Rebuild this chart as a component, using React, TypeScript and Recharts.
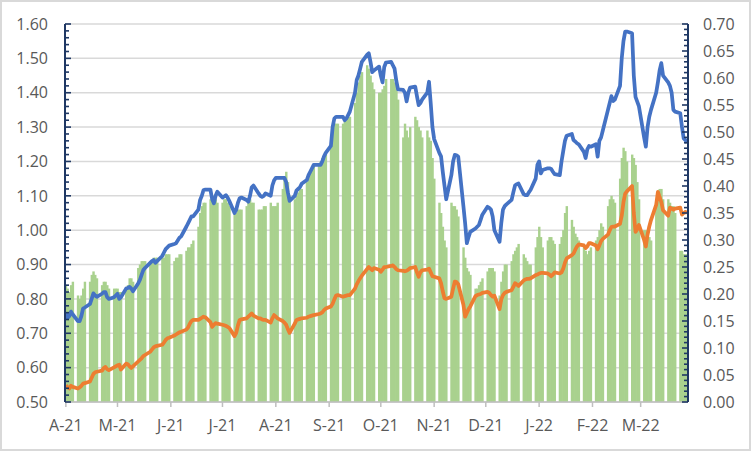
import { ComposedChart, Bar, Line, XAxis, YAxis, CartesianGrid } from 'recharts';

// daily axis, weekends left empty (date axis look)
const firstDay = '2021-04-05';
const dayCount = 362;

const monthTicks = [
  '2021-04-05', '2021-05-05', '2021-06-05', '2021-07-05', '2021-08-05', '2021-09-05',
  '2021-10-05', '2021-11-05', '2021-12-05', '2022-01-05', '2022-02-05', '2022-03-05',
];
const monthLabels = ['A-21', 'M-21', 'J-21', 'J-21', 'A-21', 'S-21', 'O-21', 'N-21', 'D-21', 'J-22', 'F-22', 'M-22'];

const leftMajor = [0.5, 0.6, 0.7, 0.8, 0.9, 1.0, 1.1, 1.2, 1.3, 1.4, 1.5, 1.6];

// one row per week, Mon..Fri
const barValues = [
  0.84, 0.83, 0.82, 0.84, 0.85,
  0.81, 0.80, 0.81, 0.83, 0.85,
  0.85, 0.87, 0.88, 0.87, 0.86,
  0.84, 0.85, 0.85, 0.84, 0.83,
  0.83, 0.83, 0.83, 0.82, 0.82,
  0.83, 0.84, 0.86, 0.86, 0.85,
  0.89, 0.90, 0.91, 0.91, 0.91,
  0.91, 0.91, 0.92, 0.92, 0.92,
  0.92, 0.92, 0.93, 0.93, 0.93,
  0.91, 0.92, 0.92, 0.93, 0.93,
  0.94, 0.95, 0.95, 0.96, 0.97,
  1.01, 1.05, 1.07, 1.08, 1.08,
  1.09, 1.10, 1.09, 1.09, 1.08,
  1.08, 1.09, 1.09, 1.08, 1.07,
  1.05, 1.05, 1.06, 1.06, 1.06,
  1.07, 1.08, 1.09, 1.08, 1.08,
  1.06, 1.06, 1.06, 1.07, 1.07,
  1.08, 1.07, 1.07, 1.07, 1.08,
  1.12, 1.15, 1.17, 1.14, 1.10,
  1.09, 1.10, 1.11, 1.12, 1.12,
  1.14, 1.15, 1.17, 1.18, 1.19,
  1.19, 1.20, 1.21, 1.21, 1.22,
  1.24, 1.30, 1.31, 1.31, 1.31,
  1.31, 1.32, 1.32, 1.33, 1.33,
  1.37, 1.40, 1.43, 1.45, 1.46,
  1.48, 1.47, 1.45, 1.43, 1.41,
  1.40, 1.40, 1.41, 1.42, 1.44,
  1.44, 1.44, 1.43, 1.41, 1.38,
  1.27, 1.31, 1.29, 1.27, 1.30,
  1.33, 1.32, 1.30, 1.29, 1.27,
  1.29, 1.27, 1.26, 1.21, 1.15,
  1.08, 1.05, 1.01, 0.97, 0.95,
  1.08, 1.07, 1.07, 1.06, 1.04,
  0.95, 0.92, 0.89, 0.88, 0.87,
  0.83, 0.83, 0.84, 0.85, 0.86,
  0.88, 0.89, 0.89, 0.89, 0.88,
  0.81, 0.85, 0.88, 0.90, 0.90,
  0.91, 0.93, 0.94, 0.95, 0.96,
  0.93, 0.92, 0.91, 0.90, 0.90,
  0.95, 0.98, 1.01, 0.98, 0.95,
  0.97, 0.98, 0.98, 0.97, 0.96,
  0.96, 0.98, 1.00, 1.05, 1.07,
  1.03, 1.01, 0.99, 0.98, 0.97,
  0.95, 0.94, 0.93, 0.94, 0.95,
  0.97, 0.98, 1.00, 1.02, 1.01,
  1.07, 1.09, 1.10, 1.09, 1.08,
  1.15, 1.21, 1.24, 1.23, 1.20,
  1.22, 1.21, 1.19, 1.14, 1.09,
  1.00, 1.00, 0.99, 0.98, 0.97,
  1.07, 1.10, 1.12, 1.12, 1.09,
  1.09, 1.08, 1.07, 1.07, 1.05,
  0.94, 0.94, 0.93, 0.93, 0.93,
];

const blueValues = [
  0.76, 0.745, 0.75, 0.763, 0.755,
  0.735, 0.735, 0.75, 0.772, 0.775,
  0.785, 0.80, 0.816, 0.81, 0.806,
  0.815, 0.82, 0.82, 0.805, 0.80,
  0.805, 0.81, 0.815, 0.80, 0.805,
  0.83, 0.832, 0.835, 0.83, 0.822,
  0.845, 0.855, 0.87, 0.884, 0.89,
  0.905, 0.91, 0.913, 0.905, 0.91,
  0.925, 0.935, 0.945, 0.95, 0.955,
  0.96, 0.962, 0.97, 0.978, 0.982,
  1.01, 1.02, 1.03, 1.04, 1.04,
  1.06, 1.088, 1.10, 1.117, 1.118,
  1.118, 1.09, 1.078, 1.10, 1.112,
  1.095, 1.098, 1.102, 1.095, 1.085,
  1.05, 1.06, 1.08, 1.093, 1.095,
  1.088, 1.083, 1.10, 1.125, 1.13,
  1.107, 1.10, 1.097, 1.10, 1.107,
  1.10, 1.13, 1.145, 1.152, 1.152,
  1.152, 1.152, 1.14, 1.11, 1.085,
  1.10, 1.115, 1.12, 1.125, 1.135,
  1.146, 1.16, 1.17, 1.18, 1.19,
  1.19, 1.19, 1.20, 1.215, 1.225,
  1.245, 1.30, 1.325, 1.33, 1.33,
  1.33, 1.32, 1.325, 1.335, 1.345,
  1.40, 1.437, 1.45, 1.47, 1.49,
  1.51, 1.515, 1.49, 1.46, 1.465,
  1.476, 1.45, 1.43, 1.475, 1.488,
  1.49, 1.48, 1.47, 1.435, 1.41,
  1.408, 1.40, 1.375, 1.40, 1.415,
  1.418, 1.39, 1.364, 1.37, 1.38,
  1.40, 1.432, 1.37, 1.30, 1.265,
  1.225, 1.215, 1.17, 1.13, 1.09,
  1.16, 1.20, 1.219, 1.218, 1.214,
  1.07, 1.02, 0.962, 0.98, 0.995,
  1.005, 1.01, 1.015, 1.03, 1.045,
  1.068, 1.065, 1.06, 1.04, 1.00,
  0.966, 1.02, 1.06, 1.07, 1.075,
  1.088, 1.11, 1.13, 1.134, 1.136,
  1.105, 1.102, 1.102, 1.11, 1.117,
  1.15, 1.19, 1.20, 1.165, 1.175,
  1.18, 1.18, 1.178, 1.17, 1.163,
  1.16, 1.20, 1.23, 1.26, 1.275,
  1.28, 1.262, 1.258, 1.253, 1.25,
  1.228, 1.21, 1.235, 1.245, 1.243,
  1.25, 1.214, 1.26, 1.27, 1.29,
  1.35, 1.37, 1.39, 1.376, 1.38,
  1.42, 1.50, 1.55, 1.578, 1.578,
  1.573, 1.45, 1.388, 1.374, 1.36,
  1.27, 1.243, 1.30, 1.33, 1.35,
  1.40, 1.43, 1.465, 1.486, 1.45,
  1.43, 1.42, 1.40, 1.35, 1.345,
  1.34, 1.30, 1.267, 1.262, 1.255,
];

const orangeValues = [
  0.031, 0.027, 0.025, 0.030, 0.028,
  0.025, 0.027, 0.030, 0.034, 0.035,
  0.038, 0.045, 0.052, 0.055, 0.056,
  0.058, 0.063, 0.065, 0.061, 0.059,
  0.064, 0.066, 0.068, 0.069, 0.060,
  0.071, 0.070, 0.066, 0.063, 0.066,
  0.075, 0.078, 0.081, 0.085, 0.087,
  0.093, 0.097, 0.101, 0.103, 0.104,
  0.106, 0.110, 0.115, 0.118, 0.119,
  0.123, 0.125, 0.127, 0.129, 0.130,
  0.134, 0.138, 0.145, 0.150, 0.152,
  0.152, 0.154, 0.156, 0.158, 0.157,
  0.148, 0.139, 0.143, 0.146, 0.145,
  0.143, 0.142, 0.141, 0.139, 0.137,
  0.122, 0.128, 0.142, 0.152, 0.153,
  0.155, 0.158, 0.161, 0.164, 0.160,
  0.155, 0.155, 0.153, 0.152, 0.152,
  0.147, 0.155, 0.161, 0.158, 0.155,
  0.150, 0.147, 0.143, 0.135, 0.128,
  0.145, 0.152, 0.153, 0.154, 0.155,
  0.156, 0.158, 0.159, 0.160, 0.161,
  0.163, 0.164, 0.166, 0.170, 0.173,
  0.177, 0.182, 0.190, 0.197, 0.198,
  0.195, 0.196, 0.197, 0.198, 0.198,
  0.210, 0.218, 0.224, 0.229, 0.234,
  0.246, 0.250, 0.247, 0.244, 0.248,
  0.245, 0.241, 0.245, 0.250, 0.250,
  0.252, 0.253, 0.250, 0.246, 0.244,
  0.243, 0.242, 0.243, 0.245, 0.248,
  0.250, 0.240, 0.232, 0.240, 0.244,
  0.245, 0.247, 0.240, 0.233, 0.232,
  0.229, 0.220, 0.205, 0.192, 0.191,
  0.195, 0.210, 0.223, 0.222, 0.218,
  0.180, 0.158, 0.165, 0.172, 0.177,
  0.196, 0.198, 0.199, 0.200, 0.202,
  0.204, 0.202, 0.198, 0.195, 0.197,
  0.172, 0.190, 0.198, 0.202, 0.204,
  0.207, 0.213, 0.220, 0.218, 0.215,
  0.225, 0.227, 0.228, 0.228, 0.229,
  0.235, 0.236, 0.238, 0.239, 0.239,
  0.238, 0.236, 0.233, 0.236, 0.240,
  0.238, 0.240, 0.247, 0.258, 0.266,
  0.272, 0.275, 0.282, 0.288, 0.292,
  0.290, 0.285, 0.288, 0.294, 0.294,
  0.290, 0.283, 0.290, 0.298, 0.302,
  0.310, 0.318, 0.324, 0.325, 0.325,
  0.330, 0.345, 0.370, 0.386, 0.390,
  0.400, 0.350, 0.315, 0.320, 0.328,
  0.300, 0.288, 0.310, 0.325, 0.337,
  0.365, 0.389, 0.380, 0.370, 0.355,
  0.345, 0.360, 0.358, 0.356, 0.358,
  0.360, 0.347, 0.350, 0.352, 0.350,
];

const NAVY = '#1F3864';
const GREY_TEXT = '#595959';
const FONT = '"Open Sans", "Liberation Sans", Arial, sans-serif';
const PLOT_WIDTH = 752 - 65 - 64;

function buildRows() {
  const t0 = Date.parse(firstDay + 'T00:00:00Z');
  const rows = [];
  for (let k = 0; k < dayCount; k++) {
    const date = new Date(t0 + k * 86400000).toISOString().slice(0, 10);
    const dow = k % 7;
    const i = Math.floor(k / 7) * 5 + dow;
    const open = dow < 5;
    rows.push({
      date,
      bar: open ? barValues[i] ?? null : null,
      blue: open ? blueValues[i] ?? null : null,
      orange: open ? orangeValues[i] ?? null : null,
    });
  }
  return rows;
}

const rows = buildRows();

// minor tick steps between the labelled ones
const leftTicks = Array.from({ length: 56 }, (_, i) => Math.round((0.5 + i * 0.02) * 100) / 100);
const rightTicks = Array.from({ length: 71 }, (_, i) => i / 100);

// recharts floors bar width to whole pixels, so draw each day as a full band
// (slightly overlapped so neighbouring days don't leave light seams)
const DayBar = (props: any) => {
  const { x, y, width, height } = props;
  if (!height || height <= 0) return null;
  const band = PLOT_WIDTH / dayCount;
  const cx = x + width / 2;
  return <rect x={cx - band / 2 - 0.35} y={y} width={band + 0.7} height={height} fill="#A9D18E" />;
};

const LeftTick = (props: any) => {
  const { x, y, payload } = props;
  const v = payload.value as number;
  const major = Math.round(v * 100) % 10 === 0;
  const axisX = x + 17;
  return (
    <g>
      <line x1={axisX} x2={axisX + (major ? 6 : 4)} y1={y} y2={y} stroke={NAVY} strokeWidth={1.6} />
      {major && (
        <text x={x} y={y} dy="0.36em" textAnchor="end" fill={GREY_TEXT} fontSize={16} fontFamily={FONT}>
          {v.toFixed(2)}
        </text>
      )}
    </g>
  );
};

const RightTick = (props: any) => {
  const { x, y, payload } = props;
  const v = payload.value as number;
  const major = Math.round(v * 100) % 5 === 0;
  const axisX = x - 15;
  return (
    <g>
      <line x1={axisX} x2={axisX - (major ? 6 : 4)} y1={y} y2={y} stroke={NAVY} strokeWidth={1.6} />
      {major && (
        <text x={x} y={y} dy="0.36em" textAnchor="start" fill={GREY_TEXT} fontSize={16} fontFamily={FONT}>
          {v.toFixed(2)}
        </text>
      )}
    </g>
  );
};

export default function App() {
  return (
    <div style={{ position: 'relative', width: 752, height: 452, background: '#fff' }}>
      <style>{'body{margin:0}'}</style>
      <ComposedChart
        width={752}
        height={452}
        data={rows}
        margin={{ top: 24, right: 0, bottom: 0, left: 0 }}
        barCategoryGap={0}
        barGap={0}
      >
        <CartesianGrid
          yAxisId="left"
          vertical={false}
          horizontalValues={leftMajor}
          stroke="#D9D9D9"
          strokeWidth={1.5}
        />
        <XAxis
          dataKey="date"
          type="category"
          ticks={monthTicks}
          interval={0}
          height={50}
          tickSize={5}
          tickMargin={13}
          axisLine={{ stroke: '#BFBFBF', strokeWidth: 1.5 }}
          tickLine={{ stroke: '#BFBFBF', strokeWidth: 1.5 }}
          tick={{ fill: GREY_TEXT, fontSize: 16, fontFamily: FONT }}
          tickFormatter={(d: string) => monthLabels[monthTicks.indexOf(d)] ?? ''}
        />
        <YAxis
          yAxisId="left"
          orientation="left"
          type="number"
          domain={[0.5, 1.6]}
          ticks={leftTicks}
          interval={0}
          width={65}
          tickSize={0}
          tickMargin={17}
          tickLine={false}
          axisLine={{ stroke: NAVY, strokeWidth: 2 }}
          tick={<LeftTick />}
        />
        <YAxis
          yAxisId="right"
          orientation="right"
          type="number"
          domain={[0, 0.7]}
          ticks={rightTicks}
          interval={0}
          width={64}
          tickSize={0}
          tickMargin={15}
          tickLine={false}
          axisLine={{ stroke: NAVY, strokeWidth: 2 }}
          tick={<RightTick />}
        />
        <Bar yAxisId="left" dataKey="bar" fill="#A9D18E" shape={<DayBar />} isAnimationActive={false} />
        <Line
          yAxisId="left"
          dataKey="blue"
          type="linear"
          stroke="#4472C4"
          strokeWidth={3.75}
          strokeLinejoin="round"
          dot={false}
          activeDot={false}
          connectNulls
          isAnimationActive={false}
        />
        <Line
          yAxisId="right"
          dataKey="orange"
          type="linear"
          stroke="#ED7D31"
          strokeWidth={3.75}
          strokeLinejoin="round"
          dot={false}
          activeDot={false}
          connectNulls
          isAnimationActive={false}
        />
      </ComposedChart>
      <div
        style={{
          position: 'absolute',
          left: 0,
          top: 0,
          width: 751,
          height: 451,
          boxSizing: 'border-box',
          border: '2px solid #D9D9D9',
          pointerEvents: 'none',
        }}
      />
    </div>
  );
}
